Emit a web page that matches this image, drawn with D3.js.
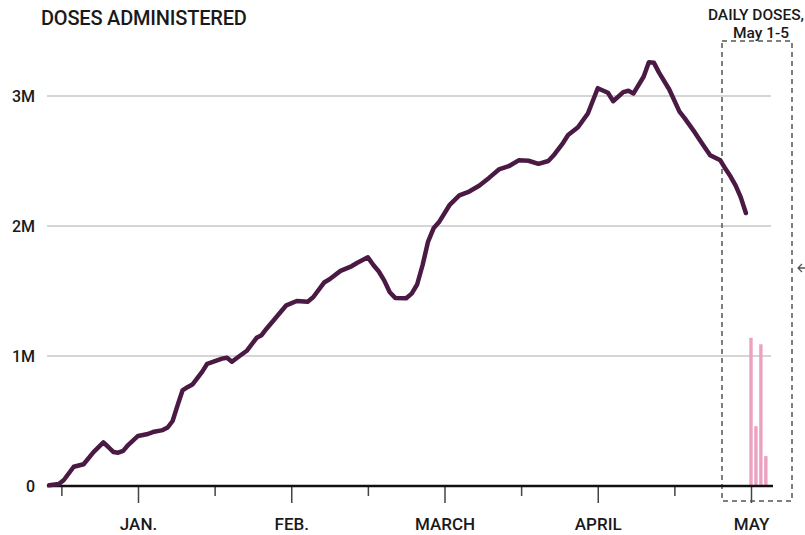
<!DOCTYPE html>
<html>
<head>
<meta charset="utf-8">
<script src="https://cdn.jsdelivr.net/npm/d3@7"></script>
<style>
  body { margin: 0; background: #fff; }
  svg text { font-family: Roboto, "DejaVu Sans", sans-serif; fill: #1a1a1a; font-weight: 500; }
</style>
</head>
<body>
<svg id="chart" width="805" height="535"></svg>
<script>
// 7-day average of doses administered (millions)
var dates = [
  "2020-12-14","2020-12-16","2020-12-17","2020-12-19","2020-12-21","2020-12-23","2020-12-25","2020-12-26",
  "2020-12-27","2020-12-28","2020-12-29","2020-12-30",
  "2021-01-01","2021-01-03","2021-01-04","2021-01-06","2021-01-07","2021-01-08","2021-01-09","2021-01-10",
  "2021-01-11","2021-01-12","2021-01-14","2021-01-15","2021-01-16","2021-01-18","2021-01-19","2021-01-20",
  "2021-01-21","2021-01-23","2021-01-25","2021-01-26","2021-01-27","2021-01-29","2021-01-31",
  "2021-02-02","2021-02-04","2021-02-05","2021-02-07","2021-02-08","2021-02-10","2021-02-12","2021-02-13",
  "2021-02-15","2021-02-16","2021-02-17","2021-02-18","2021-02-19","2021-02-20","2021-02-22","2021-02-23",
  "2021-02-24","2021-02-25","2021-02-26","2021-02-27","2021-02-28",
  "2021-03-02","2021-03-04","2021-03-06","2021-03-08","2021-03-10","2021-03-12","2021-03-14","2021-03-16",
  "2021-03-18","2021-03-20","2021-03-22","2021-03-23","2021-03-25","2021-03-26","2021-03-28","2021-03-30",
  "2021-04-01","2021-04-03","2021-04-04","2021-04-06","2021-04-07","2021-04-08","2021-04-10","2021-04-11",
  "2021-04-12","2021-04-13","2021-04-15","2021-04-17","2021-04-18","2021-04-20","2021-04-21","2021-04-23",
  "2021-04-25","2021-04-26","2021-04-27","2021-04-28","2021-04-29","2021-04-30"
];
var doses = [
  0.005,0.015,0.046,0.148,0.167,0.26,0.335,0.30,
  0.262,0.256,0.27,0.315,
  0.385,0.40,0.415,0.43,0.45,0.50,0.62,0.735,
  0.76,0.78,0.88,0.94,0.953,0.98,0.987,0.956,
  0.985,1.04,1.14,1.16,1.21,1.30,1.39,
  1.423,1.418,1.452,1.565,1.59,1.655,1.69,1.715,
  1.759,1.70,1.65,1.58,1.49,1.447,1.444,1.48,
  1.55,1.70,1.88,1.982,2.03,
  2.16,2.235,2.265,2.31,2.37,2.435,2.46,2.505,
  2.502,2.478,2.50,2.54,2.64,2.70,2.76,2.865,
  3.06,3.025,2.96,3.03,3.04,3.02,3.15,3.26,
  3.255,3.18,3.05,2.88,2.83,2.72,2.66,2.545,
  2.505,2.44,2.38,2.31,2.22,2.10
];

// daily doses, May 1-5
var dailyDates = ["2021-05-01","2021-05-02","2021-05-03","2021-05-04"];
var dailyDoses = [1.14, 0.46, 1.09, 0.23];

var yTicks = [0, 1, 2, 3];
var monthTicks = [0, 1, 2, 3, 4];
var monthLabels = ["JAN.", "FEB.", "MARCH", "APRIL", "MAY"];
var halfTicks = [-0.5, 0.5, 1.5, 2.5, 3.5];

var parse = d3.timeParse("%Y-%m-%d");

// months are drawn with equal widths: date -> month index + fraction of month
function monthPos(s) {
  var d = parse(s);
  var idx = (d.getFullYear() - 2021) * 12 + d.getMonth();
  var days = new Date(d.getFullYear(), d.getMonth() + 1, 0).getDate();
  return idx + (d.getDate() - 1) / days;
}

var svg = d3.select("#chart");
var left = 47, right = 773, base = 486;

var x = d3.scaleLinear().domain([0, 4]).range([138, 751]);
var y = d3.scaleLinear().domain([0, 1]).range([base, base - 130]);

// grid
svg.append("g").selectAll("line")
  .data(yTicks.filter(function(d){ return d > 0; }))
  .enter().append("line")
    .attr("x1", left).attr("x2", 771)
    .attr("y1", function(d){ return y(d); })
    .attr("y2", function(d){ return y(d); })
    .attr("stroke", "#ababab")
    .attr("stroke-width", 1.2);

// y labels
svg.append("g").selectAll("text")
  .data(yTicks)
  .enter().append("text")
    .attr("x", 35)
    .attr("y", function(d){ return y(d); })
    .attr("dy", "0.36em")
    .attr("text-anchor", "end")
    .style("font-size", "16px")
    .text(function(d){ return d === 0 ? "0" : d + "M"; });

// x axis: half-month ticks (short) and month ticks (long, labelled)
var minorAxis = d3.axisBottom(x).tickValues(halfTicks).tickSize(10).tickFormat("");
var majorAxis = d3.axisBottom(x).tickValues(monthTicks).tickSize(17).tickPadding(15)
  .tickFormat(function(d, i){ return monthLabels[i]; });

var gMinor = svg.append("g").attr("transform", "translate(0," + base + ")").call(minorAxis);
var gMajor = svg.append("g").attr("transform", "translate(0," + base + ")").call(majorAxis);
[gMinor, gMajor].forEach(function(g){
  g.select(".domain").remove();
  g.selectAll(".tick line").attr("stroke", "#444").attr("stroke-width", 1.5);
});
gMajor.selectAll(".tick text")
  .style("font-size", "17px")
  .style("font-family", "Roboto, sans-serif")
  .style("font-weight", "500")
  .attr("fill", "#1a1a1a");

// dashed box around the daily bars
svg.append("rect")
  .attr("x", 722).attr("y", 41)
  .attr("width", 70).attr("height", 460)
  .attr("fill", "none")
  .attr("stroke", "#555")
  .attr("stroke-width", 1.5)
  .attr("stroke-dasharray", "5,4");

// daily bars
var barW = 3.4;
svg.append("g").selectAll("rect")
  .data(dailyDoses)
  .enter().append("rect")
    .attr("x", function(d, i){ return x(monthPos(dailyDates[i])) - barW / 2; })
    .attr("y", function(d){ return y(d); })
    .attr("width", barW)
    .attr("height", function(d){ return base - y(d); })
    .attr("fill", "#eaa2c0");

// baseline
svg.append("line")
  .attr("x1", left).attr("x2", right)
  .attr("y1", base).attr("y2", base)
  .attr("stroke", "#111")
  .attr("stroke-width", 2.5);

// the line
var line = d3.line()
  .x(function(d, i){ return x(monthPos(dates[i])); })
  .y(function(d){ return y(d); });

svg.append("path")
  .attr("d", line(doses))
  .attr("fill", "none")
  .attr("stroke", "#4a1a45")
  .attr("stroke-width", 4.5)
  .attr("stroke-linejoin", "round")
  .attr("stroke-linecap", "round");

// titles
svg.append("text")
  .attr("x", 41).attr("y", 25)
  .style("font-size", "20px")
  .style("letter-spacing", "-0.2px")
  .text("DOSES ADMINISTERED");

svg.append("text")
  .attr("x", 756).attr("y", 20)
  .attr("text-anchor", "middle")
  .style("font-size", "15.5px")
  .text("DAILY DOSES,");

svg.append("text")
  .attr("x", 761).attr("y", 38)
  .attr("text-anchor", "middle")
  .style("font-size", "15.5px")
  .text("May 1-5");

// arrow pointing back into the chart, cut by the right edge
svg.append("path")
  .attr("d", "M802,264 L798,268 L802,272 M798,268 L808,268")
  .attr("fill", "none")
  .attr("stroke", "#555")
  .attr("stroke-width", 1.3);
</script>
</body>
</html>
